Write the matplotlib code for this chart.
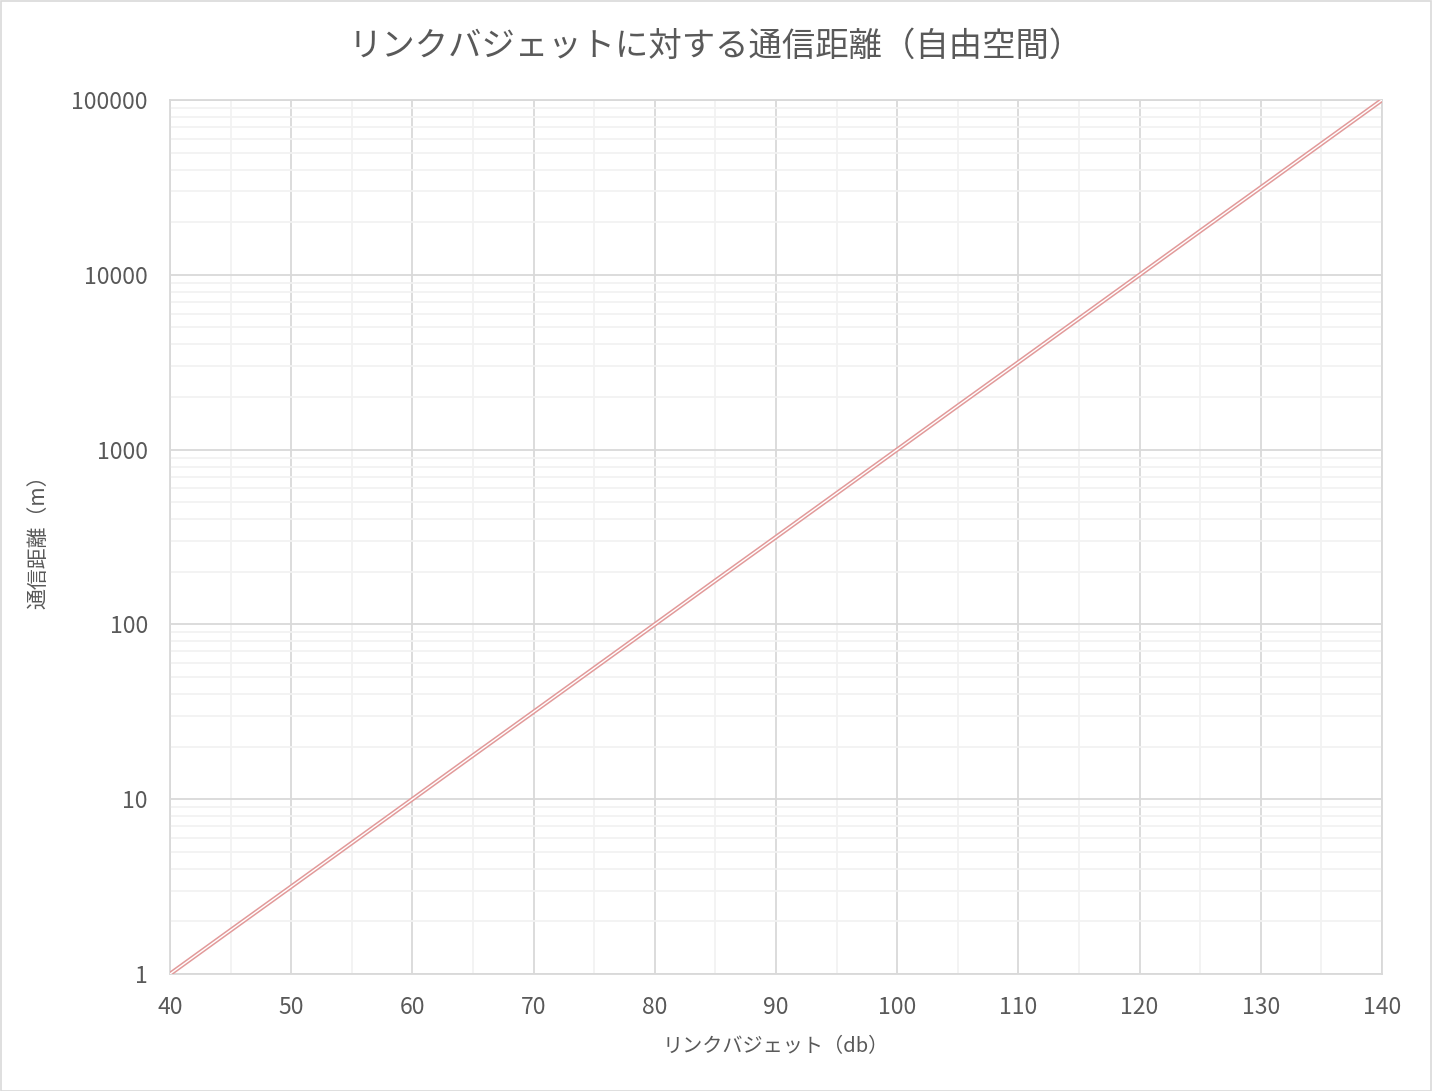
import matplotlib
matplotlib.use("Agg")
import matplotlib.pyplot as plt
from matplotlib.ticker import LogLocator, MultipleLocator, FixedLocator, NullFormatter
from matplotlib.patches import Rectangle

plt.rcParams['font.family'] = ['Noto Sans CJK JP', 'DejaVu Sans']

title = "リンクバジェットに対する通信距離（自由空間）"
xlabel = "リンクバジェット（db）"
ylabel = "通信距離（m）"

budget_db = [40, 45, 50, 55, 60, 65, 70, 75, 80, 85, 90, 95, 100, 105, 110, 115, 120, 125, 130, 135, 140]
distance_m = [1, 1.78, 3.16, 5.62, 10, 17.8, 31.6, 56.2, 100, 178, 316, 562, 1000, 1780, 3160, 5620,
              10000, 17800, 31600, 56200, 100000]
x_ticks = [40, 50, 60, 70, 80, 90, 100, 110, 120, 130, 140]
y_ticks = [1, 10, 100, 1000, 10000, 100000]
y_tick_labels = ["1", "10", "100", "1000", "10000", "100000"]

W, H = 1432, 1091
fig = plt.figure(figsize=(W / 100, H / 100), dpi=100)
fig.patches.append(Rectangle((0.5 / W, 0.5 / H), 1 - 1.5 / W, 1 - 1.5 / H, transform=fig.transFigure,
                             fill=False, edgecolor='#D9D9D9', linewidth=1.2))

left, right, top, bottom = 170, 1382, 100, 974
ax = fig.add_axes([left / W, 1 - bottom / H, (right - left) / W, (bottom - top) / H])

ax.set_yscale('log')
ax.set_xlim(40, 140)
ax.set_ylim(1, 100000)

ax.xaxis.set_major_locator(FixedLocator(x_ticks))
ax.xaxis.set_minor_locator(MultipleLocator(5))
ax.yaxis.set_major_locator(FixedLocator(y_ticks))
ax.set_yticklabels(y_tick_labels)
ax.yaxis.set_minor_locator(LogLocator(base=10, subs=range(2, 10)))
ax.yaxis.set_minor_formatter(NullFormatter())

ax.grid(True, which='minor', color='#F2F2F2', linewidth=1.3, zorder=0)
ax.grid(True, which='major', color='#D9D9D9', linewidth=1.3, zorder=1)
ax.set_axisbelow(True)
for s in ax.spines.values():
    s.set_color('#D9D9D9')
    s.set_linewidth(1.3)

ax.tick_params(which='both', length=0, labelsize=16.5, colors='#595959')
ax.tick_params(axis='y', pad=16)
ax.tick_params(axis='x', pad=16)

ax.plot(budget_db, distance_m, color='#E29A9A', linewidth=3.2, solid_capstyle='butt', zorder=3)
ax.plot(budget_db, distance_m, color='white', linewidth=1.0, solid_capstyle='butt', zorder=4)

ax.set_xlabel(xlabel, fontsize=14.5, color='#595959', labelpad=12)
ax.set_ylabel(ylabel, fontsize=15, color='#595959', labelpad=16)
fig.suptitle(title, fontsize=24, color='#595959', y=1 - 46 / H, va='center')

fig.savefig("out.png", dpi=100)
